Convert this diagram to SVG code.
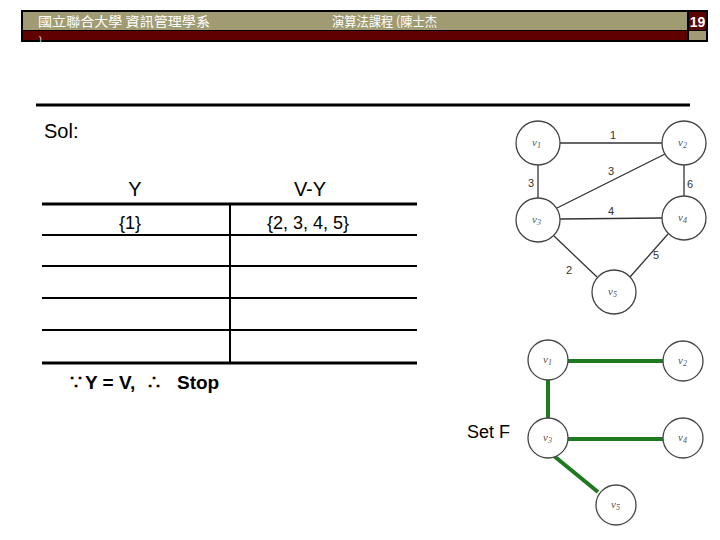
<svg xmlns="http://www.w3.org/2000/svg" width="720" height="540" viewBox="0 0 720 540">
<style>
.hdr{font-family:"Noto Sans CJK TC","Liberation Sans",sans-serif;font-size:13px;fill:#ffffff}
.t{font-family:"Liberation Sans",Arial,sans-serif;fill:#000}
.n circle{fill:#fff;stroke:#444;stroke-width:1.3}
.nl{font-family:"Liberation Serif",serif;font-style:italic;font-size:11px;fill:#555}
.el{font-family:"Liberation Sans",Arial,sans-serif;font-size:11px;fill:#333}
.e{stroke:#333;stroke-width:1.3;fill:none}
.g{stroke:#1f7a1f;stroke-width:4;fill:none}
.tl{stroke:#000;fill:none}
</style>
<rect width="720" height="540" fill="#fff"/>
<g id="header">
<rect x="21" y="10" width="687" height="32" fill="#000"/>
<rect x="23" y="12" width="664" height="18" fill="#a09b73"/>
<rect x="689" y="12" width="17" height="18" fill="#5c0000"/>
<rect x="23" y="31" width="664" height="9" fill="#600000"/>
<rect x="689" y="31" width="17" height="9" fill="#a09b73"/>
<text class="hdr" x="38" y="26" font-size="14" textLength="172" lengthAdjust="spacingAndGlyphs">國立聯合大學 資訊管理學系</text>
<text class="hdr" x="332" y="26" font-size="13" textLength="105" lengthAdjust="spacingAndGlyphs">演算法課程 (陳士杰</text>
<text x="39" y="41" font-family="Liberation Sans,Arial,sans-serif" font-size="8" fill="#fff">)</text>
<text x="697.5" y="27" text-anchor="middle" font-family="Liberation Sans,Arial,sans-serif" font-weight="bold" font-size="14" fill="#fff">19</text>
</g>
<line x1="36" y1="105" x2="690" y2="105" stroke="#000" stroke-width="3"/>
<text class="t" x="44" y="138" font-size="20">Sol:</text>
<g id="table">
<text class="t" x="135" y="196" font-size="20" text-anchor="middle">Y</text>
<text class="t" x="310" y="196" font-size="20" text-anchor="middle">V-Y</text>
<line class="tl" x1="42" y1="204" x2="417" y2="204" stroke-width="3"/>
<line class="tl" x1="42" y1="235" x2="417" y2="235" stroke-width="2"/>
<line class="tl" x1="42" y1="266" x2="417" y2="266" stroke-width="2"/>
<line class="tl" x1="42" y1="298" x2="417" y2="298" stroke-width="2"/>
<line class="tl" x1="42" y1="330" x2="417" y2="330" stroke-width="2"/>
<line class="tl" x1="42" y1="363" x2="417" y2="363" stroke-width="3"/>
<line class="tl" x1="230" y1="204" x2="230" y2="363" stroke-width="2"/>
<text class="t" x="130" y="229" font-size="18" text-anchor="middle">{1}</text>
<text class="t" x="308" y="229" font-size="18" text-anchor="middle">{2, 3, 4, 5}</text>
</g>
<text class="t" y="389" font-size="19" font-weight="bold"><tspan x="70">∵</tspan><tspan x="85">Y = V,</tspan><tspan x="148">∴</tspan><tspan x="177">Stop</tspan></text>
<text class="t" x="467" y="438" font-size="18">Set F</text>
<g id="connectors">
<line class="e" x1="560" y1="143" x2="662" y2="143"/>
<line class="e" x1="538" y1="165" x2="538" y2="198"/>
<line class="e" x1="557" y1="208" x2="665" y2="154"/>
<line class="e" x1="684" y1="165" x2="684" y2="196"/>
<line class="e" x1="560" y1="219" x2="662" y2="218"/>
<line class="e" x1="554" y1="236" x2="597" y2="277"/>
<line class="e" x1="668" y1="234" x2="630" y2="277"/>
<text class="el" x="613" y="139" text-anchor="middle">1</text>
<text class="el" x="531" y="187" text-anchor="middle">3</text>
<text class="el" x="611" y="175" text-anchor="middle">3</text>
<text class="el" x="690" y="188" text-anchor="middle">6</text>
<text class="el" x="611" y="215" text-anchor="middle">4</text>
<text class="el" x="569" y="274" text-anchor="middle">2</text>
<text class="el" x="656" y="259" text-anchor="middle">5</text>
<line class="g" x1="568" y1="361" x2="663" y2="361"/>
<line class="g" x1="548" y1="380" x2="548" y2="418"/>
<line class="g" x1="568" y1="439" x2="663" y2="439"/>
<line class="g" x1="554" y1="456" x2="598" y2="492"/>
</g>
<g id="n1" class="n"><circle cx="538" cy="143" r="22"/><text class="nl" x="532" y="146">v<tspan font-size="8" dy="2">1</tspan></text></g>
<g id="n2" class="n"><circle cx="684" cy="143" r="22"/><text class="nl" x="678" y="146">v<tspan font-size="8" dy="2">2</tspan></text></g>
<g id="n3" class="n"><circle cx="538" cy="220" r="22"/><text class="nl" x="532" y="223">v<tspan font-size="8" dy="2">3</tspan></text></g>
<g id="n4" class="n"><circle cx="684" cy="218" r="22"/><text class="nl" x="678" y="221">v<tspan font-size="8" dy="2">4</tspan></text></g>
<g id="n5" class="n"><circle cx="614" cy="292" r="22"/><text class="nl" x="608" y="295">v<tspan font-size="8" dy="2">5</tspan></text></g>
<g id="f1" class="n"><circle cx="548" cy="360" r="20"/><text class="nl" x="543" y="363">v<tspan font-size="8" dy="2">1</tspan></text></g>
<g id="f2" class="n"><circle cx="683" cy="361" r="20"/><text class="nl" x="678" y="364">v<tspan font-size="8" dy="2">2</tspan></text></g>
<g id="f3" class="n"><circle cx="548" cy="438" r="20"/><text class="nl" x="543" y="441">v<tspan font-size="8" dy="2">3</tspan></text></g>
<g id="f4" class="n"><circle cx="683" cy="438" r="20"/><text class="nl" x="678" y="441">v<tspan font-size="8" dy="2">4</tspan></text></g>
<g id="f5" class="n"><circle cx="616" cy="505" r="20"/><text class="nl" x="611" y="508">v<tspan font-size="8" dy="2">5</tspan></text></g>
</svg>
